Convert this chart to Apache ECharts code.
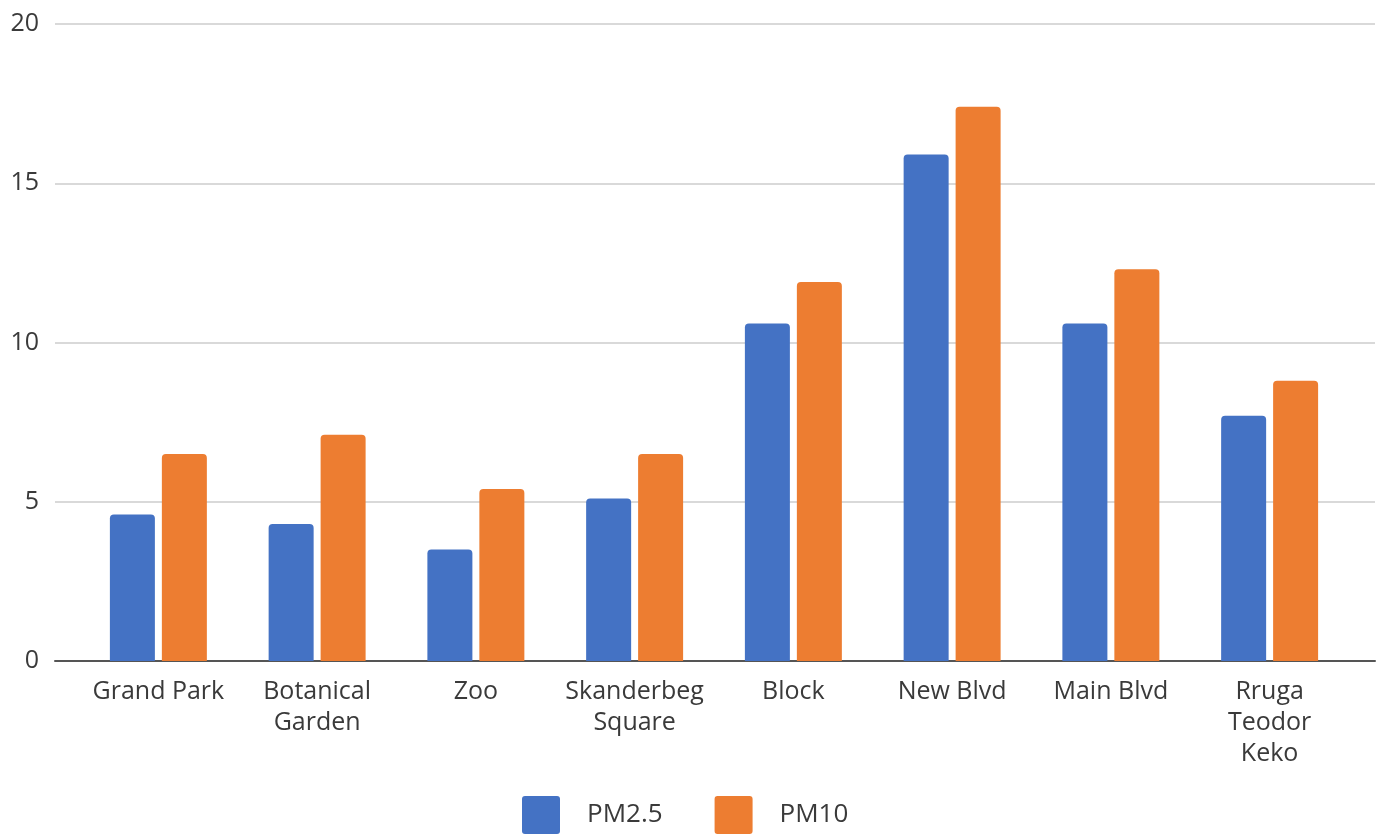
<!DOCTYPE html>
<html>
<head>
<meta charset="utf-8">
<script src="https://cdn.jsdelivr.net/npm/echarts@6/dist/echarts.min.js"></script>
<style>html,body{margin:0;padding:0;background:#fff;}#c{width:1379px;height:834px;}</style>
</head>
<body>
<div id="c"></div>
<script>
const categories = ['Grand Park', 'Botanical\nGarden', 'Zoo', 'Skanderbeg\nSquare', 'Block', 'New Blvd', 'Main Blvd', 'Rruga\nTeodor\nKeko'];
const pm25 = [4.6, 4.3, 3.5, 5.1, 10.6, 15.9, 10.6, 7.7];
const pm10 = [6.5, 7.1, 5.4, 6.5, 11.9, 17.4, 12.3, 8.8];
const yTicks = { min: 0, max: 20, interval: 5 };

const font = 'Open Sans';
const textColor = '#3a3a3a';
const chart = echarts.init(document.getElementById('c'));
chart.setOption({
  animation: false,
  backgroundColor: '#fff',
  grid: [
    { left: 55, right: 4, top: 24, bottom: 173, containLabel: false },
    { left: 79, right: 30, top: 24, bottom: 173, containLabel: false }
  ],
  legend: {
    data: ['PM2.5', 'PM10'],
    left: 522, top: 796, padding: 0,
    itemWidth: 38, itemHeight: 38, itemGap: 52,
    icon: 'path://M3,0H35Q38,0 38,3V35Q38,38 35,38H3Q0,38 0,35V3Q0,0 3,0Z',
    textStyle: { fontFamily: font, fontSize: 26, color: textColor, padding: [0, 0, 0, 22] }
  },
  xAxis: [
    { gridIndex: 0, type: 'value', min: 0, max: 1, axisLabel: { show: false }, splitLine: { show: false },
      axisTick: { show: false }, axisLine: { show: true, lineStyle: { color: '#555', width: 2 } } },
    { gridIndex: 1, type: 'category', data: categories,
      axisLine: { show: false }, axisTick: { show: false },
      axisLabel: { fontFamily: font, fontSize: 25, color: textColor, lineHeight: 31, margin: 15, interval: 0 } }
  ],
  yAxis: [
    { gridIndex: 0, type: 'value', min: yTicks.min, max: yTicks.max, interval: yTicks.interval,
      axisLine: { show: false }, axisTick: { show: false },
      axisLabel: { fontFamily: font, fontSize: 25, color: textColor, margin: 16 },
      splitLine: { lineStyle: { color: '#d9d9d9', width: 2 } } },
    { gridIndex: 1, type: 'value', min: yTicks.min, max: yTicks.max, interval: yTicks.interval, show: false }
  ],
  series: [
    { name: 'PM2.5', type: 'bar', xAxisIndex: 1, yAxisIndex: 1, data: pm25, barWidth: 45, barGap: '15.5%',
      itemStyle: { color: '#4472C4', borderRadius: [4, 4, 0, 0] } },
    { name: 'PM10', type: 'bar', xAxisIndex: 1, yAxisIndex: 1, data: pm10, barWidth: 45, barGap: '15.5%',
      itemStyle: { color: '#ED7D31', borderRadius: [4, 4, 0, 0] } }
  ]
});
</script>
</body>
</html>
